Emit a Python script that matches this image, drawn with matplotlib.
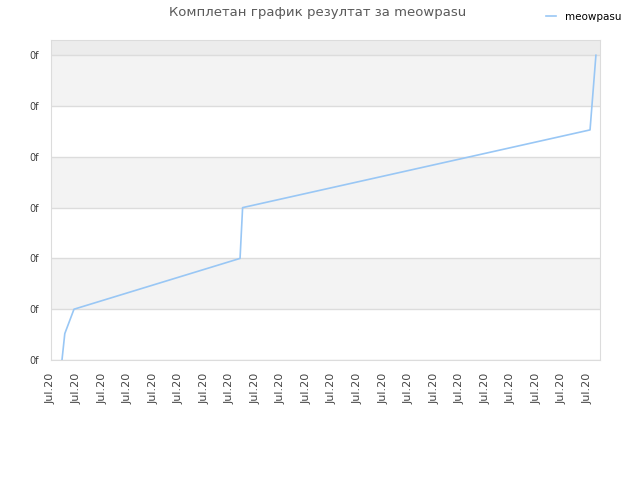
import matplotlib
matplotlib.use("Agg")
import matplotlib.pyplot as plt

# score progression (x in tick-index units, y in gridline units)
xs = [0.43, 0.54, 0.90, 7.40, 7.50, 21.10, 21.33]
ys = [0.0, 0.52, 1.0, 2.0, 3.0, 4.53, 6.0]
y_ticks = [0, 1, 2, 3, 4, 5, 6]
y_labels = ["0f"] * 7
x_ticks = list(range(22))
x_labels = ["Jul.20"] * 22

fig = plt.figure(figsize=(6.4, 4.8), dpi=100)
ax = fig.add_axes([51 / 640, 120 / 480, 549 / 640, 320 / 480])

ax.set_xlim(0, 21.49)
ax.set_ylim(0, 6.3)

# alternating bands
band_cols = ["#ffffff", "#f3f3f3"]
for i in range(6):
    ax.axhspan(i, i + 1, color=band_cols[i % 2], zorder=0, lw=0)
ax.axhspan(6, 6.3, color="#ececec", zorder=0, lw=0)
for y in y_ticks:
    ax.axhline(y, color="#dcdcdc", lw=1, zorder=1)

ax.plot(xs, ys, color="#99c7f5", lw=1.2, zorder=3, label="meowpasu")

ax.set_yticks(y_ticks)
ax.set_yticklabels(y_labels, fontsize=7, color="#444444")
ax.set_xticks(x_ticks)
ax.set_xticklabels(x_labels, rotation=90, fontsize=8, color="#444444")
ax.tick_params(axis="y", length=0, pad=9)
ax.tick_params(axis="x", length=0, pad=9)

for s in ax.spines.values():
    s.set_color("#dcdcdc")

fig.text(0.497, 0.974, "Комплетан график резултат за meowpasu", ha="center", va="center",
         fontsize=9.5, color="#5a5a5a")
leg = fig.legend(loc="upper right", bbox_to_anchor=(0.985, 0.995), frameon=False,
                 fontsize=7.5, handlelength=1.0, handletextpad=0.8)

fig.savefig("out.png", dpi=100)
